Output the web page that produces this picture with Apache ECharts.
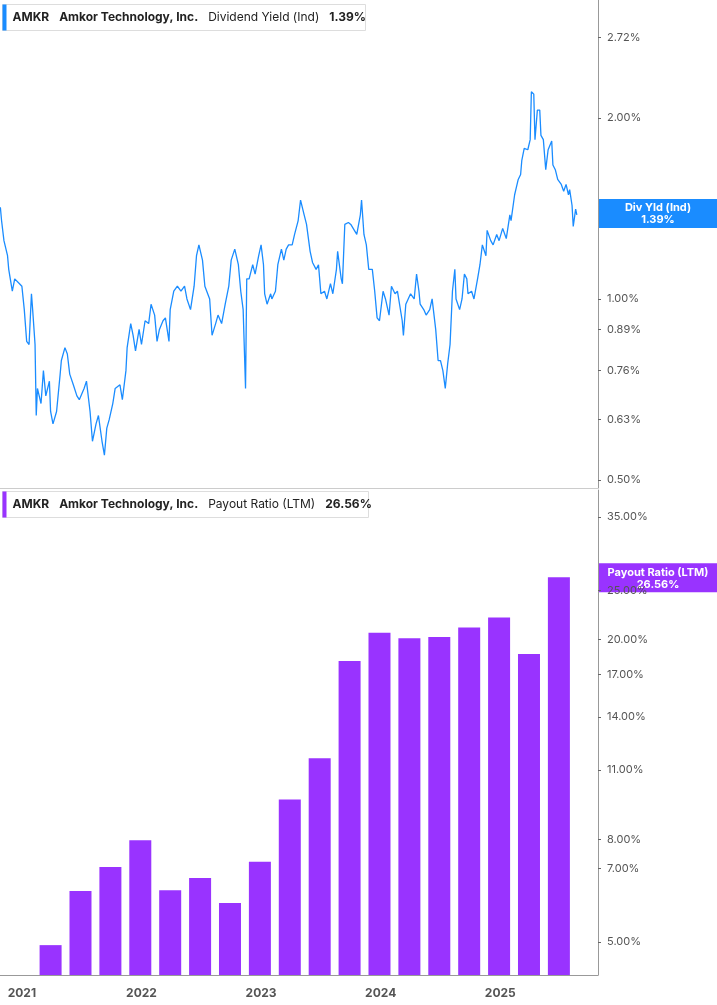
<!DOCTYPE html>
<html><head><meta charset="utf-8">
<script src="https://cdn.jsdelivr.net/npm/echarts@6/dist/echarts.min.js"></script>
<style>html,body{margin:0;padding:0;background:#fff}#c{width:717px;height:1005px}</style>
</head><body><div id="c"></div>
<script>
const yieldDates=[2020.82,2020.83,2020.85,2020.88,2020.89,2020.92,2020.94,2020.98,2021.00,2021.02,2021.04,2021.06,2021.08,2021.09,2021.11,2021.12,2021.13,2021.16,2021.18,2021.20,2021.23,2021.24,2021.26,2021.29,2021.32,2021.33,2021.36,2021.38,2021.40,2021.43,2021.46,2021.48,2021.52,2021.54,2021.57,2021.59,2021.62,2021.64,2021.67,2021.69,2021.71,2021.73,2021.76,2021.78,2021.82,2021.84,2021.87,2021.88,2021.91,2021.93,2021.95,2021.98,2022.00,2022.03,2022.06,2022.08,2022.11,2022.13,2022.15,2022.18,2022.20,2022.23,2022.24,2022.27,2022.30,2022.33,2022.36,2022.38,2022.41,2022.44,2022.46,2022.48,2022.51,2022.53,2022.57,2022.59,2022.62,2022.64,2022.67,2022.70,2022.73,2022.75,2022.78,2022.81,2022.83,2022.85,2022.87,2022.88,2022.90,2022.93,2022.95,2022.98,2023.00,2023.02,2023.03,2023.05,2023.08,2023.09,2023.12,2023.14,2023.17,2023.19,2023.21,2023.23,2023.26,2023.28,2023.31,2023.32,2023.33,2023.36,2023.38,2023.41,2023.43,2023.46,2023.48,2023.50,2023.53,2023.55,2023.58,2023.60,2023.63,2023.64,2023.67,2023.68,2023.70,2023.73,2023.75,2023.78,2023.80,2023.83,2023.84,2023.86,2023.88,2023.90,2023.93,2023.95,2023.97,2023.99,2024.02,2024.04,2024.07,2024.09,2024.12,2024.14,2024.18,2024.19,2024.21,2024.23,2024.25,2024.28,2024.30,2024.32,2024.33,2024.36,2024.38,2024.41,2024.43,2024.46,2024.48,2024.50,2024.52,2024.54,2024.56,2024.58,2024.60,2024.62,2024.63,2024.66,2024.68,2024.70,2024.72,2024.73,2024.76,2024.78,2024.81,2024.83,2024.85,2024.88,2024.89,2024.92,2024.94,2024.97,2024.99,2025.02,2025.05,2025.08,2025.09,2025.12,2025.13,2025.15,2025.17,2025.18,2025.20,2025.23,2025.25,2025.26,2025.28,2025.29,2025.31,2025.33,2025.34,2025.36,2025.38,2025.40,2025.43,2025.44,2025.46,2025.48,2025.51,2025.53,2025.55,2025.57,2025.58,2025.60,2025.61,2025.63,2025.64];
const yieldValues=[1.42,1.35,1.25,1.18,1.12,1.03,1.08,1.06,1.05,0.96,0.85,0.84,1.02,0.96,0.84,0.64,0.71,0.67,0.76,0.69,0.73,0.65,0.62,0.65,0.75,0.79,0.83,0.81,0.75,0.72,0.69,0.68,0.71,0.73,0.65,0.58,0.62,0.64,0.58,0.55,0.61,0.63,0.67,0.71,0.72,0.68,0.76,0.83,0.91,0.87,0.82,0.89,0.84,0.92,0.91,0.98,0.94,0.85,0.89,0.92,0.93,0.85,0.96,1.03,1.05,1.03,1.05,1.00,0.96,1.05,1.18,1.23,1.16,1.05,1.00,0.87,0.91,0.94,0.91,0.98,1.05,1.16,1.21,1.14,1.03,0.96,0.71,1.08,1.08,1.14,1.10,1.18,1.23,1.14,1.02,0.98,1.02,1.00,1.03,1.14,1.21,1.16,1.21,1.23,1.23,1.28,1.35,1.35,1.46,1.38,1.33,1.20,1.15,1.12,1.14,1.02,1.03,1.00,1.06,1.02,1.12,1.20,1.08,1.06,1.33,1.34,1.33,1.30,1.28,1.38,1.46,1.28,1.23,1.12,1.12,1.03,0.93,0.92,1.03,1.00,0.94,1.05,1.02,1.03,0.92,0.87,0.98,1.00,1.02,1.00,1.10,1.03,0.98,0.96,0.94,0.96,1.00,0.89,0.79,0.79,0.76,0.71,0.78,0.84,1.03,1.12,1.00,0.96,1.00,1.10,1.08,1.02,1.03,1.00,1.08,1.14,1.23,1.18,1.30,1.25,1.23,1.28,1.25,1.31,1.26,1.38,1.35,1.49,1.52,1.58,1.61,1.70,1.78,1.77,1.84,2.21,2.19,1.84,2.06,2.06,1.87,1.84,1.64,1.77,1.83,1.67,1.64,1.58,1.55,1.51,1.55,1.49,1.52,1.43,1.32,1.41,1.38];
const payoutQuarters=['2021Q1','2021Q2','2021Q3','2021Q4','2022Q1','2022Q2','2022Q3','2022Q4','2023Q1','2023Q2','2023Q3','2023Q4','2024Q1','2024Q2','2024Q3','2024Q4','2025Q1','2025Q2'];
const payoutValues=[4.93,6.32,7.05,7.97,6.34,6.70,5.98,7.22,9.6,11.6,18.1,20.6,20.1,20.2,21.1,22.1,18.7,26.56];
const yearTicks=[2021,2022,2023,2024,2025];
const yieldTicks=[0.50,0.63,0.76,0.89,1.00,2.00,2.72];
const payoutTicks=[5,7,8,11,14,17,20,25,35];
const lastYield=1.39, lastPayout=26.56;

const qPos=q=>+q.slice(0,4)+(+q.slice(5))*0.25-0.01;
const lineData=yieldDates.map((d,i)=>[d,yieldValues[i]]);
const barData=payoutQuarters.map((q,i)=>[qPos(q),payoutValues[i]]);
const F='Inter, "Noto Sans", sans-serif';
const xBase={type:'value',min:2020.817,max:2025.817,splitLine:{show:false},axisTick:{show:false}};
const yBase=(ticks)=>({type:'log',position:'right',splitLine:{show:false},
  axisLine:{show:true,lineStyle:{color:'#999'}},
  axisTick:{show:true,length:3,customValues:ticks,lineStyle:{color:'#666'}},
  axisLabel:{customValues:ticks,color:'#555',fontSize:11,fontFamily:F,margin:9,formatter:v=>v.toFixed(2)+'%'}});
const chart=echarts.init(document.getElementById('c'));
chart.setOption({
  animation:false,
  grid:[{left:0,right:119,top:0,height:488},{left:0,right:119,top:490,height:485}],
  xAxis:[Object.assign({gridIndex:0,axisLine:{show:true,lineStyle:{color:'#ccc'}},axisLabel:{show:false}},xBase),
         Object.assign({gridIndex:1,axisLine:{show:true,lineStyle:{color:'#999'}},
           axisLabel:{customValues:yearTicks,color:'#555',fontSize:12,fontWeight:'bold',fontFamily:F,margin:12,formatter:v=>String(Math.round(v))}},xBase)],
  yAxis:[Object.assign({gridIndex:0,min:0.485,max:3.14},yBase(yieldTicks)),
         Object.assign({gridIndex:1,min:4.30,max:39.6},yBase(payoutTicks))],
  series:[
    {type:'line',xAxisIndex:0,yAxisIndex:0,data:lineData,showSymbol:false,lineStyle:{color:'#1a8cff',width:1.3}},
    {type:'bar',xAxisIndex:1,yAxisIndex:1,data:barData,barWidth:22,itemStyle:{color:'#9933ff'}}
  ]
});
const yY=chart.convertToPixel({yAxisIndex:0},lastYield);
const yP=chart.convertToPixel({yAxisIndex:1},lastPayout);
function legendBox(top,color,name,val,w){
  return {type:'group',left:2,top:top,children:[
    {type:'rect',shape:{x:0,y:0,width:w,height:26},style:{fill:'#fff',stroke:'#ddd'}},
    {type:'rect',shape:{x:0,y:0,width:4,height:26},style:{fill:color}},
    {type:'text',x:10,y:7,style:{text:'{b|AMKR}   {b|Amkor Technology, Inc.}   {n|'+name+'}   {b|'+val+'}',
      rich:{b:{fontWeight:'bold',fontSize:12,fill:'#222',fontFamily:F},n:{fontSize:12,fill:'#222',fontFamily:F}}}}]};
}
function endBox(y,color,l1,l2){
  return {type:'group',x:598,y:y-14,children:[
    {type:'rect',shape:{x:0,y:0,width:119,height:29},style:{fill:color}},
    {type:'text',x:60,y:3,style:{text:l1+'\n'+l2,align:'center',fill:'#fff',fontWeight:'bold',fontSize:11,lineHeight:12,fontFamily:F}}]};
}
chart.setOption({graphic:[
  legendBox(4,'#1a8cff','Dividend Yield (Ind)','1.39%',363),
  legendBox(491,'#9933ff','Payout Ratio (LTM)','26.56%',366),
  endBox(yY,'#1a8cff','Div Yld (Ind)',lastYield.toFixed(2)+'%'),
  endBox(yP,'#9933ff','Payout Ratio (LTM)',lastPayout.toFixed(2)+'%')
]});
</script></body></html>
